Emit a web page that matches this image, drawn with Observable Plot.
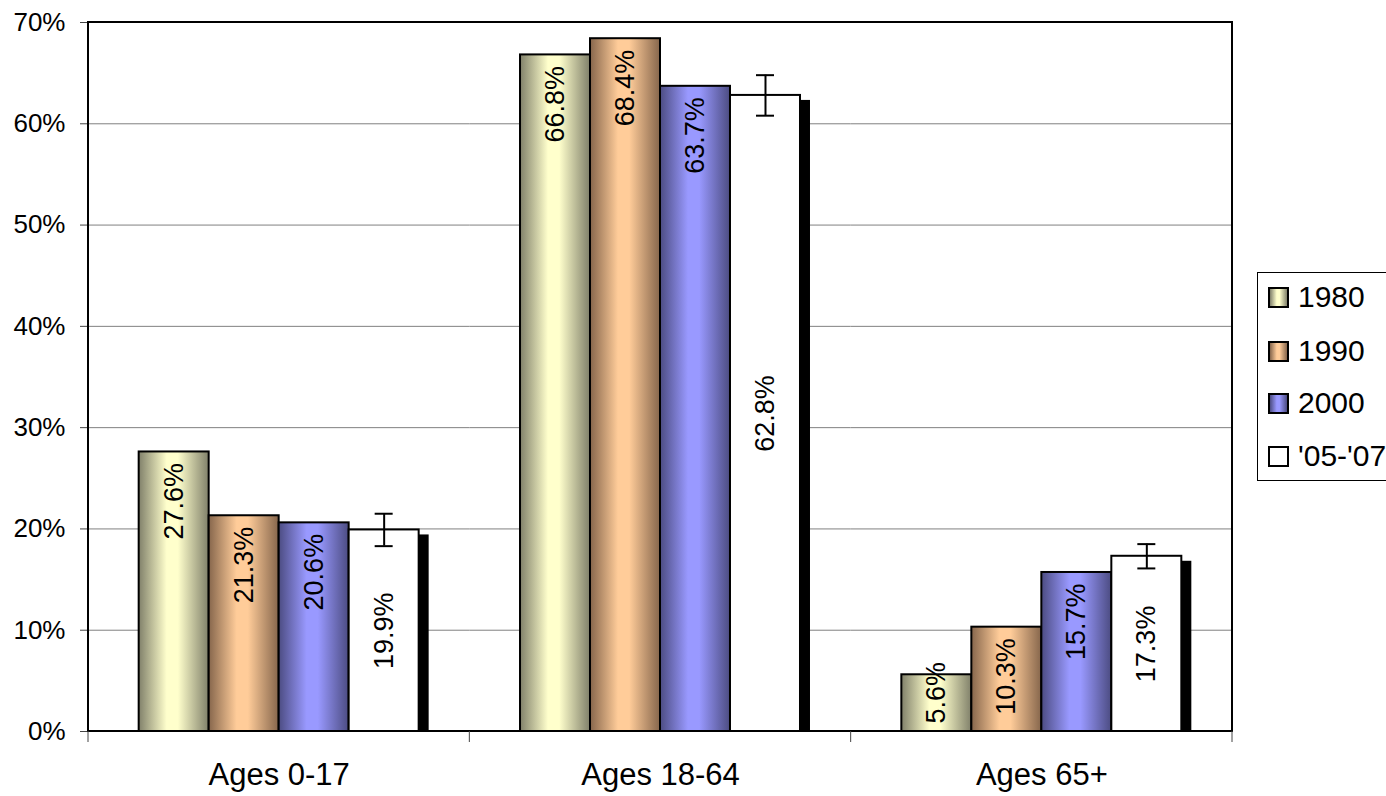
<!DOCTYPE html>
<html><head><meta charset="utf-8">
<script src="https://cdn.jsdelivr.net/npm/d3@7"></script>
<script src="https://cdn.jsdelivr.net/npm/@observablehq/plot@0.6"></script>
<style>
html,body{margin:0;padding:0;background:#fff;overflow:hidden}
#wrap{position:relative;width:1386px;height:796px;font-family:"Liberation Sans",Arial,sans-serif}
#wrap svg{position:absolute;left:0;top:0}
#legend{position:absolute;left:1257px;top:272px;width:145px;height:209px;border:1px solid #000;box-sizing:border-box;background:#fff}
.item{position:absolute;left:10px;height:34px;display:flex;align-items:center;font-size:30px;color:#000;white-space:nowrap}
.sw{width:21px;height:21px;border:2px solid #000;box-sizing:border-box;margin-right:9px;flex:none}
</style></head><body><div id="wrap"></div>
<script>
// ---- data ----
const categories = ["Ages 0-17", "Ages 18-64", "Ages 65+"];
const series = ["1980", "1990", "2000", "'05-'07"];
const v1980 = [27.6, 66.8, 5.6];
const v1990 = [21.3, 68.4, 10.3];
const v2000 = [20.6, 63.7, 15.7];
const v0507 = [19.9, 62.8, 17.3];
const err0507 = [1.6, 2.0, 1.2];
const yTicks = [0, 10, 20, 30, 40, 50, 60, 70];
const lightColors = ["#ffffcc", "#ffcc99", "#9999ff", "#ffffff"];
const darkColors = ["#80806a", "#86664c", "#4c4c82", "#ffffff"];

const valuesBySeries = [v1980, v1990, v2000, v0507];
const data = categories.flatMap((c, i) => series.map((s, j) => ({category: c, series: s, value: valuesBySeries[j][i]})));
const errData = categories.map((c, i) => ({category: c, series: series[3], value: v0507[i], err: err0507[i]}));
const fmt = d => d.value.toFixed(1) + "%";
const last = series[3];

const common = {fx: "category", x: "series"};

const chart = Plot.plot({
  width: 1386, height: 796,
  marginTop: 22, marginRight: 154, marginBottom: 65, marginLeft: 88,
  style: {fontFamily: '"Liberation Sans", Arial, sans-serif', background: "transparent", color: "#000"},
  fx: {domain: categories, paddingInner: 0, paddingOuter: 0, label: null, round: false},
  x: {domain: series, paddingInner: 0, paddingOuter: 0.724, axis: null, round: false},
  y: {domain: [0, 70], label: null},
  marks: [
    Plot.gridY(yTicks, {stroke: "#808080", strokeOpacity: 1, strokeWidth: 1}),
    // drop shadow of the last series
    Plot.barY(data.filter(d => d.series === last), {...common, y: "value", fill: "#000", dx: 10, insetTop: 5}),
    ...series.map((s, j) => Plot.barY(data.filter(d => d.series === s), {
      ...common, y: "value", fill: `url(#grad${j})`, stroke: "#000", strokeWidth: 2
    })),
    // error bars
    Plot.ruleX(errData, {...common, y1: d => d.value - d.err, y2: d => d.value + d.err, stroke: "#000", strokeWidth: 2}),
    Plot.tickY(errData, {...common, y: d => d.value + d.err, stroke: "#000", strokeWidth: 2, insetLeft: 26, insetRight: 26}),
    Plot.tickY(errData, {...common, y: d => d.value - d.err, stroke: "#000", strokeWidth: 2, insetLeft: 26, insetRight: 26}),
    // value labels
    Plot.text(data.filter(d => d.series !== last && d.value >= 8), {
      ...common, y: "value", text: fmt, rotate: -90, textAnchor: "end", dy: 11, fontSize: 27, fill: "#000"
    }),
    Plot.text(data.filter(d => d.series !== last && d.value < 8), {
      ...common, y: d => 0, text: fmt, rotate: -90, textAnchor: "start", dy: -8, fontSize: 27, fill: "#000"
    }),
    Plot.text(data.filter(d => d.series === last), {
      ...common, y: d => d.value / 2, text: fmt, rotate: -90, textAnchor: "middle", fontSize: 27, fill: "#000"
    }),
    Plot.axisY(yTicks, {tickSize: 8, tickPadding: 15, tickFormat: d => d + "%", fontSize: 26, stroke: "#444", fill: "#000", label: null}),
    Plot.axisFx({anchor: "bottom", tickSize: 0, tickPadding: 31, fontSize: 31, fill: "#000", label: null})
  ]
});

// gradients for the bar fills
const svg = d3.select(chart);
const defs = svg.insert("defs", ":first-child");
series.forEach((s, j) => {
  const g = defs.append("linearGradient").attr("id", `grad${j}`).attr("x1", 0).attr("x2", 1).attr("y1", 0).attr("y2", 0);
  g.append("stop").attr("offset", "0%").attr("stop-color", darkColors[j]);
  g.append("stop").attr("offset", "40%").attr("stop-color", lightColors[j]);
  g.append("stop").attr("offset", "56%").attr("stop-color", lightColors[j]);
  g.append("stop").attr("offset", "100%").attr("stop-color", darkColors[j]);
});

// plot-area frame and category boundary ticks, from the library's scales
const fx = chart.scale("fx"), ys = chart.scale("y");
const x0 = fx.apply(categories[0]);
const x1 = fx.apply(categories[categories.length - 1]) + fx.bandwidth;
const yTop = ys.apply(70), yBot = ys.apply(0);
const deco = svg.append("g");
deco.append("rect").attr("x", x0).attr("y", yTop).attr("width", x1 - x0).attr("height", yBot - yTop)
  .attr("fill", "none").attr("stroke", "#000").attr("stroke-width", 2);
const bounds = categories.map(c => fx.apply(c)).concat([x1]);
bounds.forEach(b => deco.append("line").attr("x1", b).attr("x2", b).attr("y1", yBot).attr("y2", yBot + 11)
  .attr("stroke", "#444").attr("stroke-width", 1));

const wrap = document.getElementById("wrap");
wrap.appendChild(chart);

// legend
const legend = document.createElement("div");
legend.id = "legend";
const centers = [24, 78, 130, 183];
series.forEach((s, j) => {
  const it = document.createElement("div");
  it.className = "item";
  it.style.top = (centers[j] - 17) + "px";
  const sw = document.createElement("span");
  sw.className = "sw";
  sw.style.background = `linear-gradient(to right, ${darkColors[j]}, ${lightColors[j]} 40%, ${lightColors[j]} 56%, ${darkColors[j]})`;
  it.appendChild(sw);
  it.appendChild(document.createTextNode(s));
  legend.appendChild(it);
});
wrap.appendChild(legend);
</script></body></html>
